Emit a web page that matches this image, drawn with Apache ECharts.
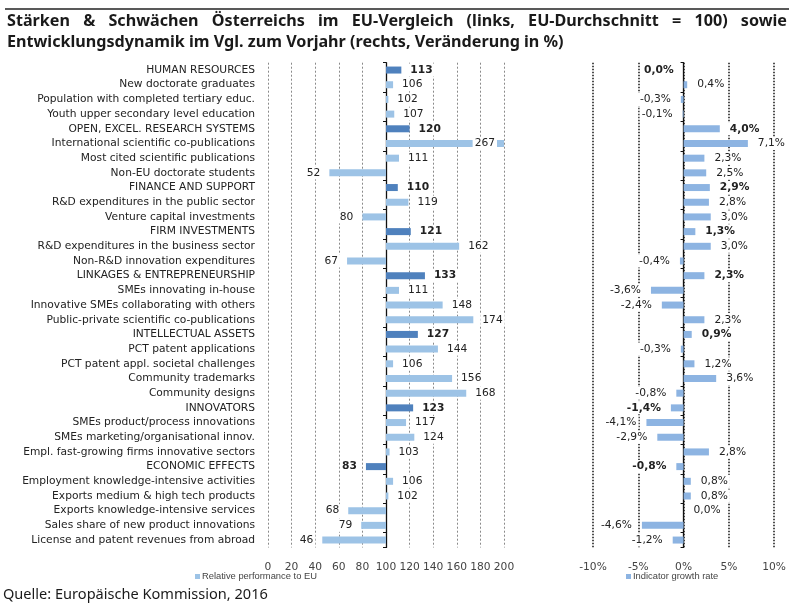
<!DOCTYPE html>
<html><head><meta charset="utf-8">
<script src="https://cdn.jsdelivr.net/npm/echarts@6/dist/echarts.min.js"></script>
<style>html,body{margin:0;padding:0;background:#fff}#c{width:789px;height:603px}</style>
</head><body><div id="c"></div><script>
const categories = [
  'HUMAN RESOURCES','New doctorate graduates','Population with completed tertiary educ.','Youth upper secondary level education',
  'OPEN, EXCEL. RESEARCH SYSTEMS','International scientific co-publications','Most cited scientific publications','Non-EU doctorate students',
  'FINANCE AND SUPPORT','R&D expenditures in the public sector','Venture capital investments',
  'FIRM INVESTMENTS','R&D expenditures in the business sector','Non-R&D innovation expenditures',
  'LINKAGES & ENTREPRENEURSHIP','SMEs innovating in-house','Innovative SMEs collaborating with others','Public-private scientific co-publications',
  'INTELLECTUAL ASSETS','PCT patent applications','PCT patent appl. societal challenges','Community trademarks','Community designs',
  'INNOVATORS','SMEs product/process innovations','SMEs marketing/organisational innov.','Empl. fast-growing firms innovative sectors',
  'ECONOMIC EFFECTS','Employment knowledge-intensive activities','Exports medium & high tech products','Exports knowledge-intensive services',
  'Sales share of new product innovations','License and patent revenues from abroad'
];
const relativePerformance = [113,106,102,107, 120,267,111,52, 110,119,80, 121,162,67, 133,111,148,174, 127,144,106,156,168, 123,117,124,103, 83,106,102,68,79,46];
const growthRate = [-0.0,0.4,-0.3,-0.1, 4.0,7.1,2.3,2.5, 2.9,2.8,3.0, 1.3,3.0,-0.4, 2.3,-3.6,-2.4,2.3, 0.9,-0.3,1.2,3.6,-0.8, -1.4,-4.1,-2.9,2.8, -0.8,0.8,0.8,0.0,-4.6,-1.2];
const leftTickLabels = ['0','20','40','60','80','100','120','140','160','180','200'];
const rightTickLabels = ['-10%','-5%','0%','5%','10%'];
const legendNames = ['Relative performance to EU','Indicator growth rate'];
const titleLine1 = 'Stärken & Schwächen Österreichs im EU-Vergleich (links, EU-Durchschnitt = 100) sowie';
const titleLine2 = 'Entwicklungsdynamik im Vgl. zum Vorjahr (rechts, Veränderung in %)';
const sourceText = 'Quelle: Europäische Kommission, 2016';

const FONT = 'DejaVu Sans';
const LFONT = 'Liberation Sans';
const TFONT = 'Noto Sans';
const DARK = '#4f81bd', LIGHT = '#9dc3e6', RIGHTC = '#8db4e2';
const isHeader = c => c === c.toUpperCase();
const isNeg = v => v < 0 || Object.is(v, -0);

const ctx = document.createElement('canvas').getContext('2d');
function tw(t, font){ ctx.font = font; return ctx.measureText(t).width; }
function fitSize(t, weight, fam, target){
  const w = tw(t, weight + ' 20px "' + fam + '"');
  return 20 * target / w;
}

// Title
const tSize = fitSize(titleLine2, 'bold', TFONT, 557);
const tFont = 'bold ' + tSize.toFixed(2) + 'px "' + TFONT + '"';
const graphics = [];
graphics.push({type:'line', shape:{x1:5,y1:9,x2:789,y2:9}, style:{stroke:'#222', lineWidth:1.5}});
const words = titleLine1.split(' ');
const wWidths = words.map(w => tw(w, tFont));
const x0 = 7, x1 = 787;
const gap = (x1 - x0 - wWidths.reduce((a,b)=>a+b,0)) / (words.length - 1);
let cx = x0;
words.forEach((w,i) => {
  graphics.push({type:'text', x:cx, y:21, style:{text:w, font:tFont, fill:'#1a1a1a', align:'left', verticalAlign:'middle'}});
  cx += wWidths[i] + gap;
});
graphics.push({type:'text', x:x0, y:42, style:{text:titleLine2, font:tFont, fill:'#1a1a1a', align:'left', verticalAlign:'middle'}});
const sSize = fitSize(sourceText, 'normal', TFONT, 265);
graphics.push({type:'text', x:3, y:595, style:{text:sourceText, font:'normal ' + sSize.toFixed(2) + 'px "' + TFONT + '"', fill:'#1a1a1a', align:'left', verticalAlign:'middle'}});

const catSize = fitSize('Population with completed tertiary educ.', 'normal', FONT, 218);
const legSize = fitSize(legendNames[0], 'normal', LFONT, 115);

const leftData = relativePerformance.map((v,i) => {
  const h = isHeader(categories[i]);
  const d = v - 100;
  const over = d > 100;
  return {
    value: d,
    itemStyle: {color: h ? DARK : LIGHT},
    label: {position: over ? 'insideRight' : (d < 0 ? 'left' : 'right'), distance: 7, fontWeight: h ? 'bold' : 'normal'}
  };
});
const rightData = growthRate.map((v,i) => {
  const h = isHeader(categories[i]);
  return {
    value: v,
    label: {position: isNeg(v) ? 'left' : 'right', distance: 8, fontWeight: h ? 'bold' : 'normal'}
  };
});
const fmtPct = v => (isNeg(v) && v !== 0 ? '-' : '') + Math.abs(v).toFixed(1).replace('.', ',') + '%';

const gridTop = 62.7, gridH = 484.7;
const valueLabel = {show:true, fontFamily:FONT, fontSize:catSize, color:'#222', backgroundColor:'#fff', padding:[1,2]};

const option = {
  animation: false,
  backgroundColor: '#fff',
  graphic: graphics,
  grid: [
    {left:268, width:236, top:gridTop, height:gridH},
    {left:593, width:185, top:gridTop, height:gridH}
  ],
  legend: [
    {data:[legendNames[0]], left:195, top:572, icon:'rect', itemWidth:5, itemHeight:5, itemGap:3, padding:0,
     textStyle:{fontFamily:LFONT, fontSize:legSize, color:'#444', padding:[0,0,0,-3]}},
    {data:[legendNames[1]], left:626, top:572, icon:'rect', itemWidth:5, itemHeight:5, itemGap:3, padding:0,
     textStyle:{fontFamily:LFONT, fontSize:legSize, color:'#444', padding:[0,0,0,-3]}}
  ],
  xAxis: [
    {type:'value', gridIndex:0, min:-100, max:100, interval:20,
     axisLine:{show:false}, axisTick:{show:false},
     axisLabel:{fontFamily:FONT, fontSize:catSize, color:'#444', margin:14, formatter: v => leftTickLabels[Math.round((v+100)/20)]},
     splitLine:{show:true, lineStyle:{color:'#8a8a8a', type:[2,2], width:1}}},
    {type:'value', gridIndex:1, min:-10, max:10, interval:5,
     axisLine:{show:false}, axisTick:{show:false},
     axisLabel:{fontFamily:FONT, fontSize:catSize, color:'#444', margin:14, formatter: v => rightTickLabels[Math.round((v+10)/5)]},
     splitLine:{show:true, lineStyle:{color:'#222', type:[1.5,1.5], width:1.6}}}
  ],
  yAxis: [
    {type:'category', gridIndex:0, data:categories, inverse:true, position:'left',
     axisLine:{show:false, onZero:false}, axisTick:{show:false},
     axisLabel:{fontFamily:FONT, fontSize:catSize, color:'#222', margin:13, interval:0}},
    {type:'category', gridIndex:0, data:categories, inverse:true, position:'left',
     axisLine:{show:true, onZero:true, lineStyle:{color:'#111', width:1.3}},
     axisTick:{show:true, length:3, lineStyle:{color:'#111'}}, axisLabel:{show:false}},
    {type:'category', gridIndex:1, data:categories, inverse:true, position:'left',
     axisLine:{show:true, onZero:true, lineStyle:{color:'#111', width:1.3}},
     axisTick:{show:true, length:3, lineStyle:{color:'#111'}}, axisLabel:{show:false}}
  ],
  series: [
    {name:legendNames[0], type:'bar', xAxisIndex:0, yAxisIndex:1, barWidth:7, data:leftData,
     itemStyle:{color:LIGHT},
     label:Object.assign({}, valueLabel, {formatter: p => String(relativePerformance[p.dataIndex])})},
    {name:legendNames[1], type:'bar', xAxisIndex:1, yAxisIndex:2, barWidth:7, data:rightData,
     itemStyle:{color:RIGHTC},
     label:Object.assign({}, valueLabel, {formatter: p => fmtPct(growthRate[p.dataIndex])})}
  ]
};
const chart = echarts.init(document.getElementById('c'));
chart.setOption(option);
</script></body></html>
